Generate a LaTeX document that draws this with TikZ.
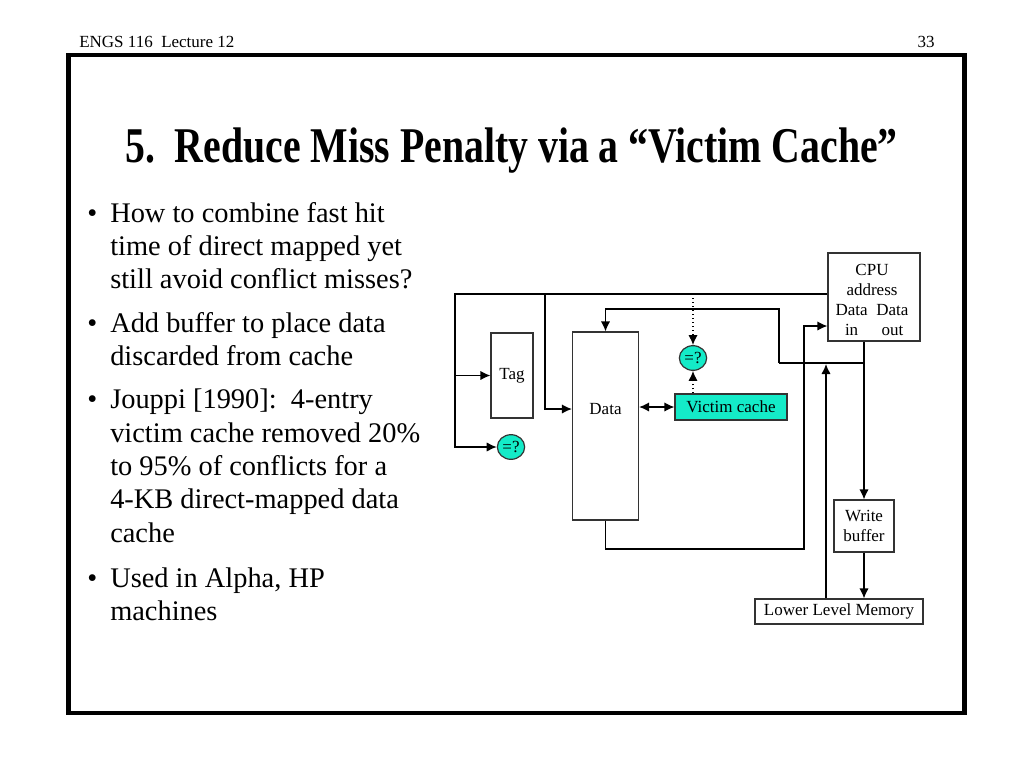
\documentclass[tikz,border=0pt]{standalone}
\usepackage{fontspec}
\setmainfont{Liberation Serif}
\usetikzlibrary{arrows.meta,shapes.geometric}
\definecolor{vcfill}{RGB}{20,235,200}
\begin{document}
\begin{tikzpicture}[x=0.75pt,y=-0.75pt,
  small/.style={font=\fontsize{12.75}{15}\selectfont},
  box/.style={draw=black!80, line width=0.9pt, inner sep=0pt, small, align=center},
  lbl/.style={inner sep=0pt, small, align=center},
  eqq/.style={ellipse, draw=black!80, fill=vcfill, line width=0.9pt, inner sep=0pt,
    minimum width=20.5pt, minimum height=18.5pt, small},
  ln/.style={line width=1pt},
  arr/.style={ln, -{Latex[length=7.5pt,width=7pt]}},
  arrb/.style={ln, {Latex[length=7.5pt,width=7pt]}-{Latex[length=7.5pt,width=7pt]}},
  bl/.style={anchor=base west, inner sep=0pt, font=\fontsize{21.3}{24.75}\selectfont},
  hd/.style={inner sep=0pt, font=\fontsize{12.75}{15}\selectfont}]
\useasboundingbox (0,0) rectangle (1024,768);
% frame
\draw[line width=3.4pt] (68.5,55) rectangle (964.3,713);
% header
\node[hd, anchor=base west] (hdl) at (79,47.3) {ENGS 116\ \ Lecture 12};
\node[hd, anchor=base east] (hdr) at (935,47.3) {33};
% title
\node[inner sep=0pt, anchor=base] (title) at (511.5,162)
  {\scalebox{0.795}[1]{\fontsize{37.5}{40}\selectfont\bfseries 5.\ \ Reduce Miss Penalty via a “Victim Cache”}};
% bullets
\node[bl] (d1) at (87,222) {•};
\node[bl] (l1) at (110,222) {How to combine fast hit};
\node[bl] (l2) at (110,255) {time of direct mapped yet};
\node[bl] (l3) at (110,288) {still avoid conflict misses?};
\node[bl] (d2) at (87,332) {•};
\node[bl] (l4) at (110,332) {Add buffer to place data};
\node[bl] (l5) at (110,365) {discarded from cache};
\node[bl] (d3) at (87,408) {•};
\node[bl] (l6) at (110,408) {Jouppi [1990]:\ \ 4-entry};
\node[bl] (l7) at (110,442) {victim cache removed 20\%};
\node[bl] (l8) at (110,475) {to 95\% of conflicts for a};
\node[bl] (l9) at (110,508) {4-KB direct-mapped data};
\node[bl] (l10) at (110,542) {cache};
\node[bl] (d4) at (87,587) {•};
\node[bl] (l11) at (110,587) {Used in Alpha, HP};
\node[bl] (l12) at (110,620) {machines};
% diagram boxes
\node[box, minimum width=31.5pt, minimum height=63.75pt] (tag) at (512,375.5) {Tag};
\node[box, minimum width=49.5pt, minimum height=141pt] (data) at (605.5,426) {};
\node[lbl] (datal) at (605.5,409) {Data};
\node[box, fill=vcfill, minimum width=84pt, minimum height=19.5pt] (vc) at (731,407) {Victim cache};
\node[eqq] (eq1) at (693,358) {=?};
\node[eqq] (eq2) at (511,447) {=?};
\node[box, minimum width=69pt, minimum height=66pt] (cpu) at (874,297) {};
\node[lbl] (cput) at (872,301.5) {%
  \renewcommand\arraystretch{1}%
  \begin{tabular}{@{}c@{\hspace{6.5pt}}c@{}}
  \multicolumn{2}{c}{CPU}\\
  \multicolumn{2}{c}{address}\\
  Data & Data\\
  in & out
  \end{tabular}};
\node[box, minimum width=45pt, minimum height=39pt] (wb) at (864,526) {Write\\buffer};
\node[box, minimum width=126pt, minimum height=18.75pt] (llm) at (839,611.5) {Lower Level Memory};
% coordinates
\coordinate (a1) at (455,294);
\coordinate (a2) at (545,294);
\coordinate (b1) at (864,363);
\coordinate (b2) at (779,363);
\coordinate (b3) at (779,309);
\coordinate (m1) at (826,364);
\coordinate (c1) at (804,549);
\coordinate (c2) at (804,326);
% connectors
\draw[arr] (cpu.west |- a1) -- (a1) |- (eq2.west);
\draw[arr] (a1 |- tag.west) -- (tag.west);
\draw[arr] (a2) |- (data.west |- datal);
\draw[arrb] (data.east |- vc) -- (vc.west);
\draw[arr, dotted] (eq1 |- a1) -- (eq1.north);
\draw[arr, dotted] (eq1 |- vc.north) -- (eq1.south);
\draw[arr] (cpu.south -| wb.north) -- (wb.north);
\draw[ln] (b1) -- (b2);
\draw[arr] (b2) -- (b3) -| (data.north);
\draw[arr] (wb.south) -- (llm.north -| wb.south);
\draw[arr] (llm.north -| m1) -- (m1);
\draw[arr] (data.south) |- (c1) -- (c2) -- (cpu.west |- c2);
\end{tikzpicture}
\end{document}
